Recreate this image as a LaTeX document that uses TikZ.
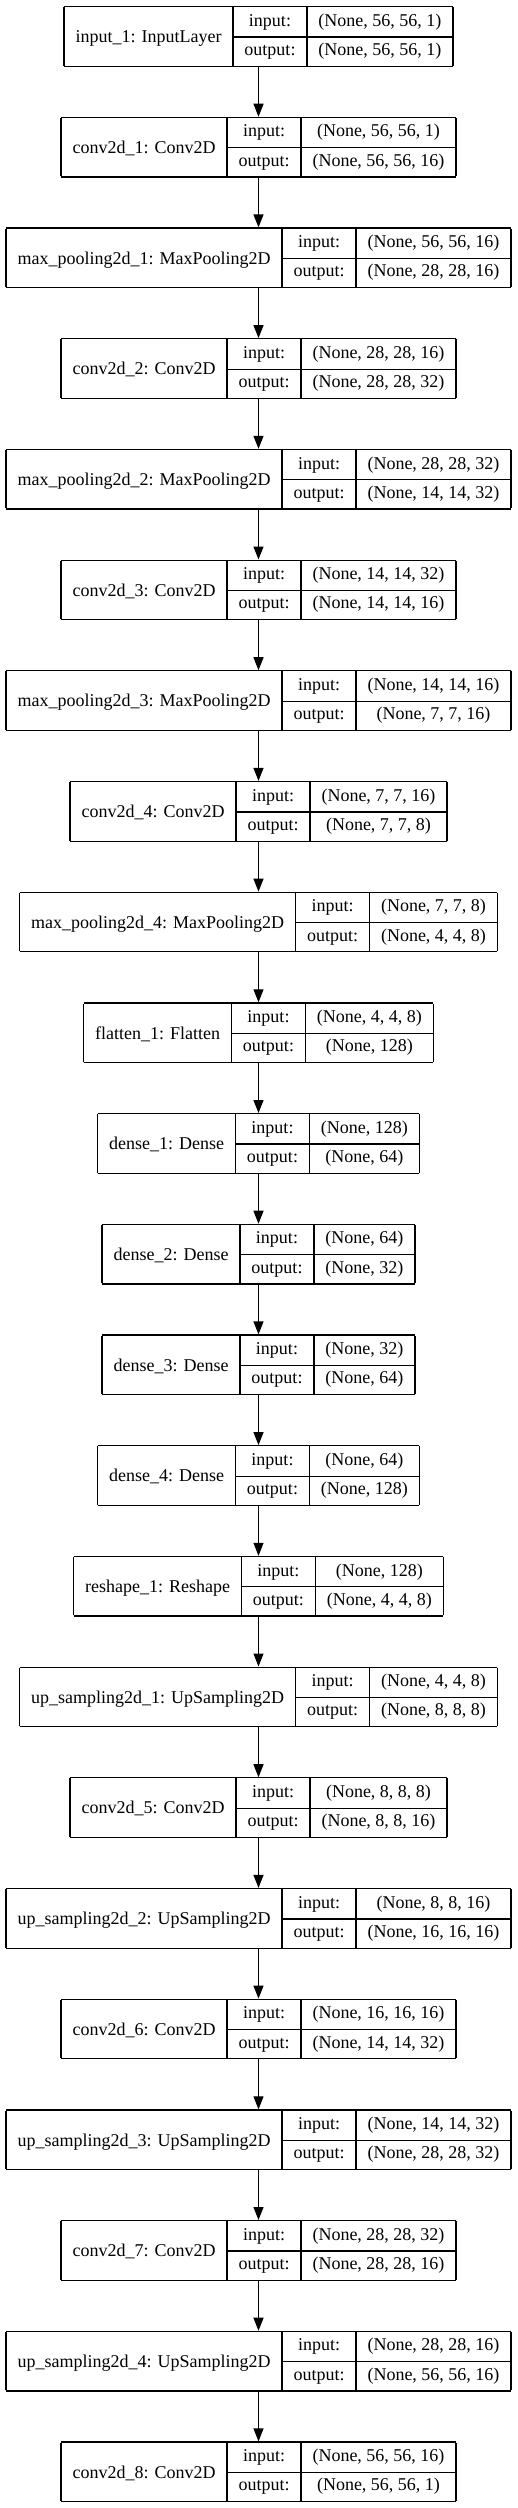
\documentclass[tikz,border=0pt]{standalone}
\usepackage{fontspec}
\setmainfont{Liberation Serif}
\usepackage{tikz}
\usetikzlibrary{arrows.meta}

\newcommand\lfont{\fontsize{18}{20}\selectfont}
\newcommand\lrow{\rule[-10.2pt]{0pt}{29.2pt}}
\setlength\arrayrulewidth{1.2pt}
\setlength\tabcolsep{11.5pt}

% one layer box: name, label, input shape, output shape, row index
\newcommand\layer[5]{%
  \node[layerbox] (#1) at (258.5, {6+110.7*#5}) {%
    \begin{tabular}{|c|c|c|}\hline
      \smash{\raisebox{-16.5pt}{#2}} & input: & #3\lrow\\ \cline{2-3}
      & output: & #4\lrow\\ \hline
    \end{tabular}};
}

\tikzset{
  layerbox/.style={inner sep=0, outer sep=0, anchor=north, font=\lfont},
  arr/.style={line width=1.2pt, -{Triangle[length=13pt,width=10pt]}}
}

\begin{document}
\begin{tikzpicture}[x=1pt, y=-1pt]

  \useasboundingbox (0,0) rectangle (517,2508);

  \layer{in1}{input\_1: InputLayer}{(None, 56, 56, 1)}{(None, 56, 56, 1)}{0}
  \layer{conv1}{conv2d\_1: Conv2D}{(None, 56, 56, 1)}{(None, 56, 56, 16)}{1}
  \layer{pool1}{max\_pooling2d\_1: MaxPooling2D}{(None, 56, 56, 16)}{(None, 28, 28, 16)}{2}
  \layer{conv2}{conv2d\_2: Conv2D}{(None, 28, 28, 16)}{(None, 28, 28, 32)}{3}
  \layer{pool2}{max\_pooling2d\_2: MaxPooling2D}{(None, 28, 28, 32)}{(None, 14, 14, 32)}{4}
  \layer{conv3}{conv2d\_3: Conv2D}{(None, 14, 14, 32)}{(None, 14, 14, 16)}{5}
  \layer{pool3}{max\_pooling2d\_3: MaxPooling2D}{(None, 14, 14, 16)}{(None, 7, 7, 16)}{6}
  \layer{conv4}{conv2d\_4: Conv2D}{(None, 7, 7, 16)}{(None, 7, 7, 8)}{7}
  \layer{pool4}{max\_pooling2d\_4: MaxPooling2D}{(None, 7, 7, 8)}{(None, 4, 4, 8)}{8}
  \layer{flat1}{flatten\_1: Flatten}{(None, 4, 4, 8)}{(None, 128)}{9}
  \layer{dense1}{dense\_1: Dense}{(None, 128)}{(None, 64)}{10}
  \layer{dense2}{dense\_2: Dense}{(None, 64)}{(None, 32)}{11}
  \layer{dense3}{dense\_3: Dense}{(None, 32)}{(None, 64)}{12}
  \layer{dense4}{dense\_4: Dense}{(None, 64)}{(None, 128)}{13}
  \layer{resh1}{reshape\_1: Reshape}{(None, 128)}{(None, 4, 4, 8)}{14}
  \layer{up1}{up\_sampling2d\_1: UpSampling2D}{(None, 4, 4, 8)}{(None, 8, 8, 8)}{15}
  \layer{conv5}{conv2d\_5: Conv2D}{(None, 8, 8, 8)}{(None, 8, 8, 16)}{16}
  \layer{up2}{up\_sampling2d\_2: UpSampling2D}{(None, 8, 8, 16)}{(None, 16, 16, 16)}{17}
  \layer{conv6}{conv2d\_6: Conv2D}{(None, 16, 16, 16)}{(None, 14, 14, 32)}{18}
  \layer{up3}{up\_sampling2d\_3: UpSampling2D}{(None, 14, 14, 32)}{(None, 28, 28, 32)}{19}
  \layer{conv7}{conv2d\_7: Conv2D}{(None, 28, 28, 32)}{(None, 28, 28, 16)}{20}
  \layer{up4}{up\_sampling2d\_4: UpSampling2D}{(None, 28, 28, 16)}{(None, 56, 56, 16)}{21}
  \layer{conv8}{conv2d\_8: Conv2D}{(None, 56, 56, 16)}{(None, 56, 56, 1)}{22}

  % connections
  \foreach \a/\b in {in1/conv1, conv1/pool1, pool1/conv2, conv2/pool2, pool2/conv3,
      conv3/pool3, pool3/conv4, conv4/pool4, pool4/flat1, flat1/dense1, dense1/dense2,
      dense2/dense3, dense3/dense4, dense4/resh1, resh1/up1, up1/conv5, conv5/up2,
      up2/conv6, conv6/up3, up3/conv7, conv7/up4, up4/conv8}
    \draw[arr] (\a) -- (\b);

\end{tikzpicture}
\end{document}
